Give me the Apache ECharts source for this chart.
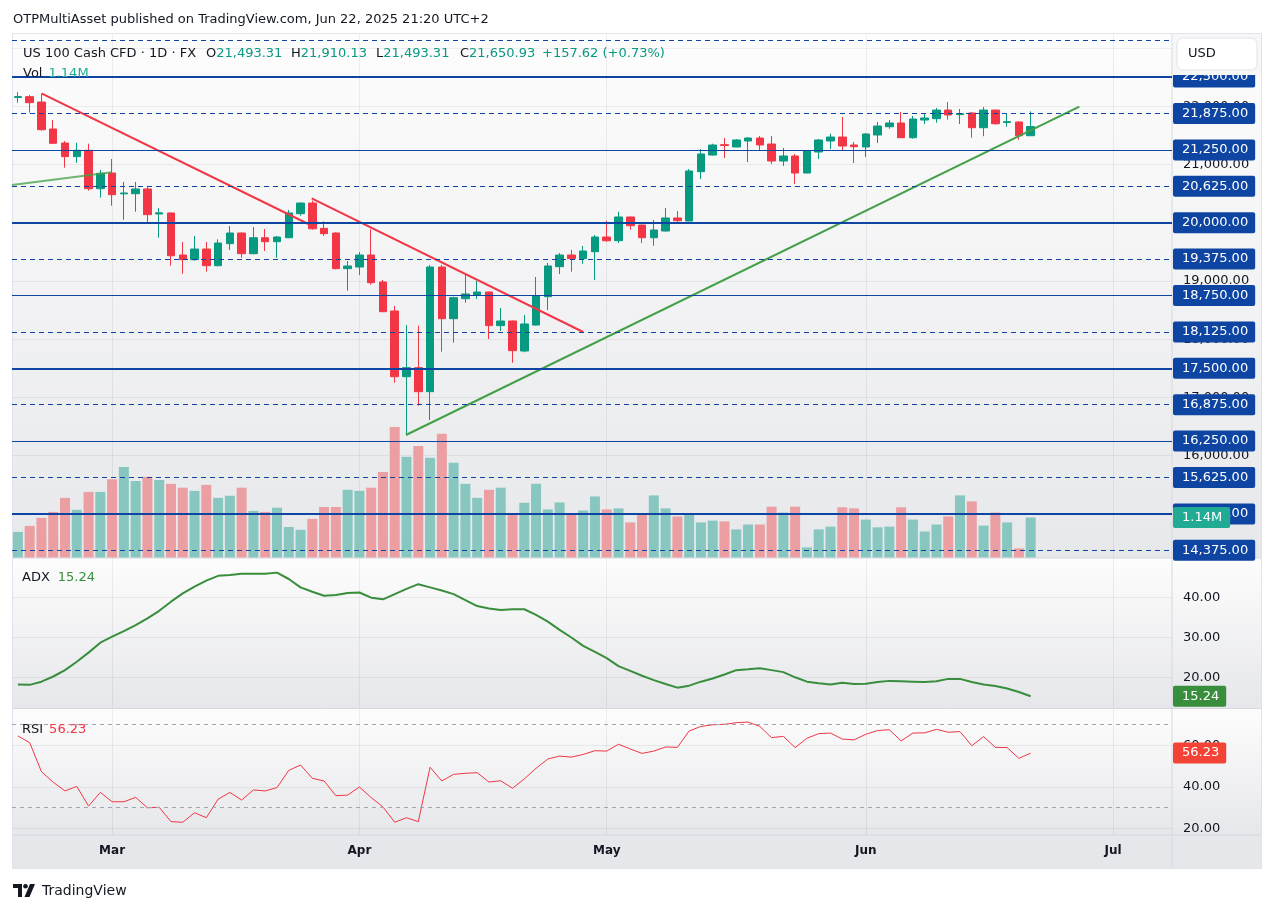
<!DOCTYPE html>
<html><head><meta charset="utf-8">
<script src="https://cdn.jsdelivr.net/npm/echarts@6/dist/echarts.min.js"></script>
<style>html,body{margin:0;padding:0;background:#fff;}#c{width:1275px;height:913px;}</style>
</head><body><div id="c"></div>
<script>
// ---------------- DATA ----------------
const dates = ['2025-02-19','2025-02-20','2025-02-21','2025-02-24','2025-02-25','2025-02-26','2025-02-27','2025-02-28',
'2025-03-03','2025-03-04','2025-03-05','2025-03-06','2025-03-07','2025-03-10','2025-03-11','2025-03-12','2025-03-13','2025-03-14',
'2025-03-17','2025-03-18','2025-03-19','2025-03-20','2025-03-21','2025-03-24','2025-03-25','2025-03-26','2025-03-27','2025-03-28','2025-03-31',
'2025-04-01','2025-04-02','2025-04-03','2025-04-04','2025-04-07','2025-04-08','2025-04-09','2025-04-10','2025-04-11','2025-04-14','2025-04-15',
'2025-04-16','2025-04-17','2025-04-21','2025-04-22','2025-04-23','2025-04-24','2025-04-25','2025-04-28','2025-04-29','2025-04-30',
'2025-05-01','2025-05-02','2025-05-05','2025-05-06','2025-05-07','2025-05-08','2025-05-09','2025-05-12','2025-05-13','2025-05-14','2025-05-15',
'2025-05-16','2025-05-19','2025-05-20','2025-05-21','2025-05-22','2025-05-23','2025-05-26','2025-05-27','2025-05-28','2025-05-29','2025-05-30',
'2025-06-02','2025-06-03','2025-06-04','2025-06-05','2025-06-06','2025-06-09','2025-06-10','2025-06-11','2025-06-12','2025-06-13',
'2025-06-16','2025-06-17','2025-06-18','2025-06-19','2025-06-20'];

const opens  = [22150,22164,22072,21609,21368,21134,21243,20584,20853,20495,20498,20579,20150,20167,19445,19365,19548,19262,19640,19823,
19468,19742,19674,19742,20155,20338,19903,19823,19211,19239,19445,18982,18484,17356,17511,17099,19239,18352,18695,18759,
18810,18232,18312,17797,18243,18730,19245,19445,19382,19502,19754,19691,20098,19960,19742,19857,20081,20029,20876,21162,
21340,21300,21403,21454,21351,21059,21145,20853,21214,21403,21471,21334,21300,21506,21648,21712,21459,21763,21786,21934,
21855,21884,21631,21934,21720,21729,21493.31];
const highs  = [22240,22193,22210,21763,21403,21374,21357,20905,21094,20699,20699,20619,20252,20175,19669,19772,19669,19715,19943,19830,
19926,19892,19772,20218,20345,20380,20023,19835,19342,19497,19886,19016,18570,18243,18232,19274,19274,18730,19102,19004,
18815,18535,18320,18415,19068,19308,19480,19531,19600,19789,20032,20189,20105,19965,20046,20252,20201,20922,21265,21356,
21454,21437,21471,21489,21489,21283,21180,21240,21437,21528,21815,21386,21540,21729,21763,21901,21832,21866,21969,22072,
21952,21901,21986,21940,21884,21735,21910.13];
const lows   = [22060,21889,21580,21355,20945,21031,20550,20430,20292,20052,20189,19983,19743,19262,19124,19350,19159,19250,19531,19399,
19457,19514,19399,19735,20120,19880,19772,19200,18833,19102,18936,18465,17253,16355,16858,16612,17786,17940,18626,18690,
18003,18140,17596,17775,18235,18501,19119,19159,19296,19016,19675,19651,19880,19651,19605,19850,19990,20025,20750,21155,
21111,21295,21042,21231,21008,20974,20664,20850,21094,21265,21248,21025,21128,21368,21614,21455,21442,21695,21717,21769,
21695,21459,21485,21683,21648,21425,21493.31];
const closes = [22165,22061,21597,21363,21134,21243,20584,20848,20481,20510,20579,20138,20170,19433,19365,19548,19262,19651,19823,19468,
19742,19674,19754,20167,20338,19895,19812,19211,19257,19445,18970,18472,17356,17511,17099,19239,18352,18713,18776,18810,
18232,18312,17803,18261,18741,19257,19445,19382,19514,19754,19690,20098,19948,19742,19875,20081,20034,20888,21180,21334,
21325,21420,21454,21334,21059,21145,20853,21231,21420,21471,21317,21305,21523,21660,21712,21459,21780,21798,21934,21849,
21872,21631,21934,21699,21735,21493.31,21650.93];
// volume in millions
const volumes = [0.73,0.90,1.13,1.30,1.70,1.36,1.87,1.87,2.23,2.58,2.18,2.30,2.21,2.10,1.99,1.90,2.07,1.70,1.76,1.99,
1.33,1.30,1.42,0.87,0.79,1.10,1.44,1.44,1.93,1.90,1.99,2.44,3.72,2.87,3.18,2.84,3.53,2.70,2.10,1.70,
1.93,1.99,1.22,1.56,2.10,1.37,1.57,1.23,1.34,1.74,1.37,1.40,1.00,1.23,1.77,1.40,1.17,1.23,1.00,1.05,
1.03,0.80,0.94,0.94,1.45,1.28,1.45,0.29,0.80,0.88,1.43,1.40,1.08,0.86,0.88,1.43,1.08,0.74,0.94,1.17,
1.77,1.60,0.91,1.28,1.00,0.26,1.14];
const adx = [18.2,18.1,18.9,20.2,21.8,23.9,26.2,28.7,30.2,31.6,33.1,34.8,36.7,39.0,41.1,42.8,44.3,45.5,45.7,46.0,
46.0,46.0,46.3,44.7,42.6,41.5,40.5,40.7,41.2,41.3,40.0,39.6,40.9,42.2,43.4,42.6,41.8,40.9,39.4,37.9,
37.3,36.9,37.1,37.1,35.7,34.0,31.9,30.0,27.9,26.4,24.8,22.8,21.6,20.4,19.3,18.3,17.4,17.9,18.9,19.7,
20.7,21.8,22.0,22.3,21.8,21.3,20.0,18.9,18.5,18.2,18.6,18.3,18.4,18.8,19.1,19.0,18.9,18.8,19.0,19.6,
19.6,18.8,18.2,17.8,17.2,16.3,15.24];
const rsi = [64.5,61.3,47.3,42.2,38.0,40.2,30.7,37.3,32.8,32.8,34.9,29.9,30.1,23.2,22.9,27.5,25.1,34.0,37.3,33.6,
38.5,38.0,39.6,47.9,50.5,44.1,42.8,35.7,36.0,39.9,34.8,30.3,22.9,25.1,23.2,49.4,42.8,46.0,46.5,46.8,
42.3,42.9,39.3,43.8,48.9,53.4,54.8,54.3,55.6,57.4,57.2,60.5,58.2,56.1,57.2,59.2,59.0,66.9,69.1,69.9,
70.1,70.9,71.2,69.1,63.7,64.3,58.9,63.4,65.6,65.9,63.0,62.6,65.3,67.1,67.5,62.1,65.9,66.0,67.7,66.3,
66.6,59.8,64.2,59.0,58.9,53.7,56.23];

const monthLabels = ['Mar','Apr','May','Jun','Jul'];
const monthStartIdx = [8,29,50,72,93];
const priceTicks = [15000,16000,17000,18000,19000,20000,21000,22000,23000];
const adxTicks = [20,30,40];
const rsiTicks = [20,40,60];
const rsiBands = [70,30];
const levelValues = [14375,15000,15625,16250,16875,17500,18125,18750,19375,20000,20625,21250,21875,22500,23125];
const trendRed1 = [[2,22222],[24.66,19978]];
const trendRed2 = [[24.95,20419],[48.0,18123]];
const trendGreen1 = [[32.95,16355],[90.13,21992]];
const trendGreen2 = [[-0.5,20649],[7.96,20865]];

// ---------------- CHART ----------------
const chart = echarts.init(document.getElementById('c'), null, {renderer:'canvas', width:1275, height:913});
const FONT = "'DejaVu Sans', Verdana, sans-serif";
const TXT = '#131722';
const UP = '#089981', DOWN = '#f23645';
const BLUE = '#0e45a2';
const GRIDC = 'rgba(42,46,57,0.07)';
const last = closes.length - 1;
const fmt2 = v => Number(v).toLocaleString('en-US',{minimumFractionDigits:2, maximumFractionDigits:2});

function xAxisFor(gi, showLabels){
  return {type:'value', gridIndex:gi, min:-0.5, max:98,
    axisLine:{show:false},
    axisTick:{show:false, customValues:monthStartIdx},
    splitLine:{show:true, lineStyle:{color:GRIDC, width:1}},
    axisLabel: showLabels ? {show:true, customValues:monthStartIdx,
      formatter: v => { const k = monthStartIdx.indexOf(Math.round(v)); return k>=0 ? monthLabels[k] : ''; },
      color:TXT, fontFamily:FONT, fontSize:12, fontWeight:'bold', margin:10} : {show:false}};
}
function yAxisFor(gi, min, max, ticks){
  return {type:'value', gridIndex:gi, position:'right', min, max, scale:true,
    axisLine:{show:false},
    axisTick:{show:false, customValues:ticks},
    splitLine:{show:true, lineStyle:{color:GRIDC, width:1}},
    axisLabel:{customValues:ticks, formatter:fmt2, color:TXT, fontFamily:FONT, fontSize:13, margin:11}};
}
const badgeLabel = (bg) => ({show:true, position:'end', distance:1, color:'#fff', backgroundColor:bg,
  fontFamily:FONT, fontSize:13, lineHeight:13, padding:[4,7,4,9], borderRadius:2});

function levelStyle(v){
  const d = v - 15000;
  if (d % 2500 === 0) return {color:BLUE, width:2, type:'solid'};
  if (d % 1250 === 0) return {color:BLUE, width:1, type:'solid'};
  return {color:BLUE, width:1, type:[5,4]};
}

const candleData = closes.map((c,i)=>[i, opens[i], c, lows[i], highs[i]]);
const volData = volumes.map((v,i)=>({value:[i,v], itemStyle:{color: closes[i]>=opens[i] ? '#88c7bf' : '#ec9fa2'}}));

function trend(data, color){
  return {type:'line', xAxisIndex:0, yAxisIndex:0, data, showSymbol:false, symbol:'none', silent:true, z:4,
    lineStyle:{color, width:2}, animation:false};
}

function paneBg(y,h,c1,c2){
  return {type:'rect', z:-10, silent:true, shape:{x:12,y,width:1250,height:h},
    style:{fill:new echarts.graphic.LinearGradient(0,0,0,1,[{offset:0,color:c1},{offset:1,color:c2}])}};
}
function hline(y, x1, x2, color){
  return {type:'line', z:-5, silent:true, shape:{x1, y1:y, x2, y2:y}, style:{stroke:color, lineWidth:1}};
}
function txt(x,y,text,rich,extra){
  return Object.assign({type:'text', z:50, silent:true, x, y,
    style:{text, font:'13px '+FONT, fill:TXT, verticalAlign:'middle', align:'left', rich}}, extra||{});
}

const up = closes[last] >= opens[last];
const chg = closes[last] - closes[last-1];
const chgPct = chg / closes[last-1] * 100;
const valColor = up ? UP : DOWN;
const rich = {
  k:{fill:TXT, font:'13px '+FONT},
  v:{fill:valColor, font:'13px '+FONT},
  t:{fill:'#22ab94', font:'13px '+FONT, padding:[0,0,0,6]},
  g:{fill:'#388e3c', font:'13px '+FONT, padding:[0,0,0,8]},
  r:{fill:'#f23645', font:'13px '+FONT, padding:[0,0,0,6]}
};

const option = {
  animation:false,
  backgroundColor:'#ffffff',
  grid:[
    {left:12, top:34, width:1160, height:523.5},
    {left:12, top:558.5, width:1160, height:149},
    {left:12, top:709.5, width:1160, height:125}
  ],
  xAxis:[xAxisFor(0,false), xAxisFor(1,false), xAxisFor(2,true)],
  yAxis:[
    yAxisFor(0, 14251.5, 23240, priceTicks),
    {type:'value', gridIndex:0, min:0, max:14.92, show:false},
    yAxisFor(1, 12.41, 49.85, adxTicks),
    yAxisFor(2, 17.01, 77.25, rsiTicks)
  ],
  series:[
    {type:'bar', xAxisIndex:0, yAxisIndex:1, data:volData, barWidth:10, z:1, silent:true,
      markLine:{silent:true, symbol:['none','none'], z:7, animation:false,
        data:[{yAxis:volumes[last], lineStyle:{color:'rgba(0,0,0,0)', width:0}}],
        label:Object.assign(badgeLabel('#22ab94'), {formatter: p => p.value.toFixed(2)+'M', padding:[4,8,4,9]})}},
    {type:'candlestick', xAxisIndex:0, yAxisIndex:0, data:candleData, barWidth:8, z:2, silent:true,
      itemStyle:{color:UP, color0:DOWN, borderColor:UP, borderColor0:DOWN, borderWidth:1},
      markLine:{silent:true, symbol:['none','none'], z:5, animation:false,
        label:Object.assign(badgeLabel(BLUE), {formatter: p => fmt2(p.value)}),
        data: levelValues.map(v => ({yAxis:v, lineStyle:levelStyle(v), label:{show: v <= 22500}}))}},
    trend(trendGreen2, 'rgba(67,160,71,0.75)'),
    trend(trendRed1, '#f23645'),
    trend(trendRed2, '#f23645'),
    trend(trendGreen1, '#43a047'),
    {type:'line', xAxisIndex:1, yAxisIndex:2, data:adx.map((v,i)=>[i,v]), showSymbol:false, symbol:'none', silent:true,
      lineStyle:{color:'#388e3c', width:2}, z:3,
      markLine:{silent:true, symbol:['none','none'], animation:false,
        data:[{yAxis:adx[last], lineStyle:{color:'rgba(0,0,0,0)', width:0}}],
        label:Object.assign(badgeLabel('#388e3c'), {formatter: p => p.value.toFixed(2)})}},
    {type:'line', xAxisIndex:2, yAxisIndex:3, data:rsi.map((v,i)=>[i,v]), showSymbol:false, symbol:'none', silent:true,
      lineStyle:{color:'#f23645', width:1}, z:3,
      markLine:{silent:true, symbol:['none','none'], animation:false,
        data: rsiBands.map(b => ({yAxis:b, lineStyle:{color:'#a3a6af', width:1, type:[4,4]}, label:{show:false}}))
          .concat([{yAxis:rsi[last], lineStyle:{color:'rgba(0,0,0,0)', width:0},
            label:Object.assign(badgeLabel('#f44336'), {formatter: p => p.value.toFixed(2)})}])}}
  ],
  graphic:{elements:[
    paneBg(33, 525, '#fdfdfd', '#e7e8eb'),
    paneBg(558, 150, '#fdfdfd', '#e6e7ea'),
    paneBg(708, 127, '#fdfdfd', '#e6e7ea'),
    {type:'rect', z:-10, silent:true, shape:{x:12,y:835,width:1250,height:34}, style:{fill:'#e6e7ea'}},
    hline(558, 12, 1262, '#d6d8de'),
    hline(708.5, 12, 1262, '#d6d8de'),
    hline(835, 12, 1262, '#d6d8de'),
    {type:'line', z:-5, silent:true, shape:{x1:1172, y1:33, x2:1172, y2:869}, style:{stroke:'#d6d8de', lineWidth:1}},
    {type:'rect', z:-4, silent:true, shape:{x:12.5,y:33.5,width:1249,height:835}, style:{fill:null, stroke:'#e0e3eb', lineWidth:1}},
    // top of price scale cover + currency box
    {type:'rect', z:40, silent:true, shape:{x:1173,y:34,width:88,height:41}, style:{fill:'#f7f7f8'}},
    {type:'rect', z:41, silent:true, shape:{x:1177,y:38,width:80,height:32,r:6}, style:{fill:'#ffffff', stroke:'#e0e3eb', lineWidth:1}},
    txt(1188, 54, 'USD'),
    // header
    txt(13, 20, 'OTPMultiAsset published on TradingView.com, Jun 22, 2025 21:20 UTC+2'),
    // legend
    txt(23, 54, 'US 100 Cash CFD · 1D · FX'),
    txt(206, 54, '{k|O}{v|'+fmt2(opens[last])+'}', rich),
    txt(291, 54, '{k|H}{v|'+fmt2(highs[last])+'}', rich),
    txt(376, 54, '{k|L}{v|'+fmt2(lows[last])+'}', rich),
    txt(460, 54, '{k|C}{v|'+fmt2(closes[last])+'}', rich),
    txt(542, 54, '{v|'+(chg>=0?'+':'')+chg.toFixed(2)+' ('+(chg>=0?'+':'')+chgPct.toFixed(2)+'%)}', rich),
    txt(23, 74, '{k|Vol}{t|'+volumes[last].toFixed(2)+'M}', rich),
    txt(22, 578, '{k|ADX}{g|'+adx[last].toFixed(2)+'}', rich),
    txt(22, 730, '{k|RSI}{r|'+rsi[last].toFixed(2)+'}', rich),
    // TradingView logo
    {type:'polygon', z:50, silent:true, shape:{points:[[13,884],[22,884],[22,897],[18,897],[18,888],[13,888]]}, style:{fill:TXT}},
    {type:'circle', z:50, silent:true, shape:{cx:25.5, cy:886.3, r:2.3}, style:{fill:TXT}},
    {type:'polygon', z:50, silent:true, shape:{points:[[30,884],[35,884],[29.5,897],[24.5,897]]}, style:{fill:TXT}},
    {type:'text', z:50, silent:true, x:42, y:891, style:{text:'TradingView', font:'14px '+FONT, fill:TXT, verticalAlign:'middle'}}
  ]}
};
chart.setOption(option);
</script>
</body></html>
